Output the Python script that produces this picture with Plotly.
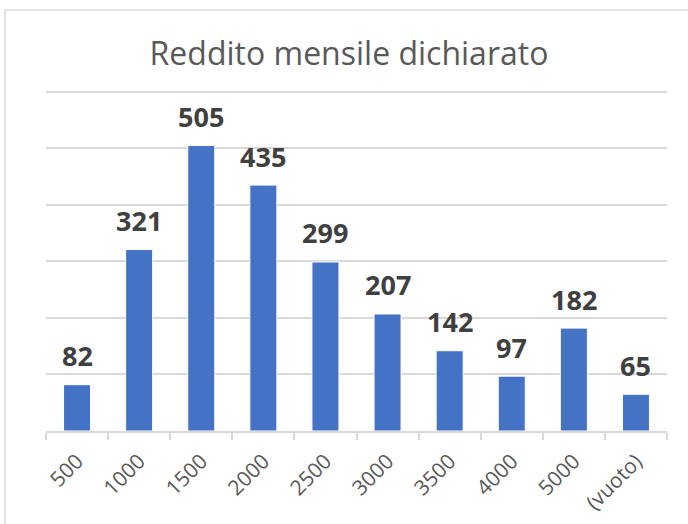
import plotly.graph_objects as go

categories = ["500", "1000", "1500", "2000", "2500", "3000", "3500", "4000", "5000", "(vuoto)"]
values = [82, 321, 505, 435, 299, 207, 142, 97, 182, 65]
title_text = "Reddito mensile dichiarato"

W, H = 688, 524
YMAX = 605
ML, MR, MB = 46, 21, 93
MT = 431 - round(339 * YMAX / 600)
PW, PH = W - ML - MR, H - MT - MB

def px_x(p):
    return (p - ML) / PW

def px_y(p):
    return (H - MB - p) / PH

FONT = "Open Sans"
BAR = "#4472C4"
GRID = "#D9D9D9"

fig = go.Figure()
fig.add_trace(go.Bar(
    x=categories, y=values,
    marker=dict(color=BAR, line=dict(color="white", width=1)),
    hoverinfo="x+y",
))

annotations = []
for i, v in enumerate(values):
    annotations.append(dict(
        x=i, y=v, xref="x", yref="y", text=str(v), showarrow=False,
        yanchor="middle", yshift=29,
        font=dict(family=FONT, size=27, color="#404040", weight="bold"),
    ))

fig.update_layout(
    width=W, height=H,
    margin=dict(l=ML, r=MR, t=MT, b=MB, pad=0),
    paper_bgcolor="white", plot_bgcolor="white",
    bargap=0.565,
    showlegend=False,
    title=dict(
        text=title_text, x=349 / W, xanchor="center",
        y=1 - 54 / H, yanchor="middle", xref="container", yref="container",
        font=dict(family=FONT, size=32, color="#595959"),
        automargin=False,
    ),
    annotations=annotations,
    shapes=[
        dict(type="line", xref="paper", yref="paper",
             x0=px_x(5), x1=px_x(700), y0=px_y(10), y1=px_y(10),
             line=dict(color=GRID, width=1.5)),
        dict(type="line", xref="paper", yref="paper",
             x0=px_x(5), x1=px_x(5), y0=px_y(10), y1=px_y(540),
             line=dict(color=GRID, width=1.5)),
    ],
    xaxis=dict(
        type="category", categoryorder="array", categoryarray=categories,
        range=[-0.5, len(categories) - 0.5], autorange=False, automargin=False,
        showline=True, linecolor=GRID, linewidth=1.5,
        ticks="outside", tickson="boundaries", ticklen=7, tickcolor=GRID, tickwidth=1.5,
        tickangle=-45, tickfont=dict(family=FONT, size=21, color="#595959"),
        ticklabelstandoff=8,
        showgrid=False, zeroline=False,
    ),
    yaxis=dict(
        range=[0, YMAX], autorange=False, automargin=False,
        tick0=0, dtick=100, showticklabels=False,
        showgrid=True, gridcolor=GRID, gridwidth=1.5, zeroline=False,
        showline=False, ticks="",
    ),
)

fig.write_html(
    "out.html",
    config={"displayModeBar": False},
    post_script="document.body.style.margin='0';document.body.style.padding='0';window.dispatchEvent(new Event('resize'));",
)
